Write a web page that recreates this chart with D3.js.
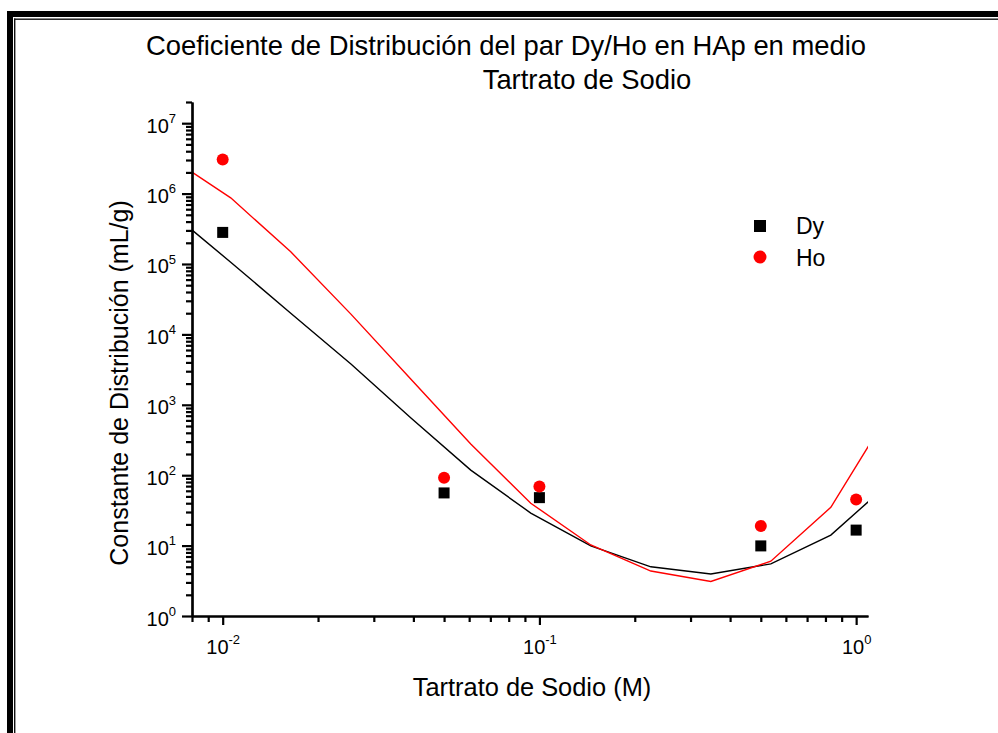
<!DOCTYPE html>
<html>
<head>
<meta charset="utf-8">
<script src="https://cdn.jsdelivr.net/npm/d3@7"></script>
<style>
  body { margin: 0; background: #fff; }
  svg { display: block; font-family: "Liberation Sans", Arial, sans-serif; }
</style>
</head>
<body>
<div id="chart"></div>
<script>
// measured points
const sodium = [0.01, 0.05, 0.1, 0.5, 1.0];
const dyKd = [2.81e5, 56, 48, 9.9, 16.6];
const hoKd = [3.05e6, 92, 69, 19, 45];

// fitted curves (vertices)
const fitX = [0.00686, 0.0106, 0.0164, 0.0254, 0.0393, 0.0607, 0.0939, 0.1453, 0.2248, 0.3477, 0.5378, 0.8319, 1.287];
const dyFit = [5.4e5, 1.06e5, 2.0e4, 3.8e3, 650, 118, 29, 9.9, 5.0, 3.95, 5.5, 14.1, 81];
const hoFit = [3.2e6, 8.7e5, 1.49e5, 1.94e4, 2.3e3, 277, 40, 10.2, 4.35, 3.1, 6.0, 35, 850];

const xMajor = [0.01, 0.1, 1];
const yMajor = [1, 10, 1e2, 1e3, 1e4, 1e5, 1e6, 1e7];
const series = ["Dy", "Ho"];
const colors = ["#000000", "#ff0000"];

const width = 998, height = 733;
const plot = {left: 192, right: 868, top: 102, bottom: 616};

const x = d3.scaleLog().domain([0.008, 1.09]).range([plot.left, plot.right]);
const y = d3.scaleLog().domain([1, 2e7]).range([plot.bottom, plot.top]);

// minor tick positions
const xMinor = [];
[0.001, 0.01, 0.1].forEach(d => { for (let k = 2; k <= 9; k++) xMinor.push(d * k); });
const xMinorIn = xMinor.filter(v => v >= 0.008 && v <= 1.09);
const yMinor = [];
[1, 10, 1e2, 1e3, 1e4, 1e5, 1e6, 1e7].forEach(d => { for (let k = 2; k <= 9; k++) yMinor.push(d * k); });
const yMinorIn = yMinor.filter(v => v <= 2e7 * 1.0001);

const svg = d3.select("#chart").append("svg")
  .attr("width", width)
  .attr("height", height);

// frame
svg.append("rect").attr("x", 7).attr("y", 11).attr("width", 6).attr("height", height).attr("fill", "#000");
svg.append("rect").attr("x", 7).attr("y", 11).attr("width", width).attr("height", 6).attr("fill", "#000");
svg.append("rect").attr("x", 14).attr("y", 18.5).attr("width", 1.4).attr("height", height).attr("fill", "#111");
svg.append("rect").attr("x", 14).attr("y", 18.5).attr("width", width).attr("height", 1.4).attr("fill", "#111");

// title
svg.append("text")
  .attr("x", 506).attr("y", 55)
  .attr("text-anchor", "middle")
  .attr("font-size", 27.4)
  .text("Coeficiente de Distribución del par Dy/Ho en HAp en medio");
svg.append("text")
  .attr("x", 587).attr("y", 89)
  .attr("text-anchor", "middle")
  .attr("font-size", 27.4)
  .text("Tartrato de Sodio");

svg.append("defs").append("clipPath").attr("id", "clip")
  .append("rect")
  .attr("x", plot.left).attr("y", plot.top)
  .attr("width", plot.right - plot.left).attr("height", plot.bottom - plot.top);

// fit lines
const line = vals => d3.line()
  .x((d, i) => x(fitX[i]))
  .y(d => y(d))(vals);

const lines = svg.append("g").attr("clip-path", "url(#clip)");
[dyFit, hoFit].forEach((vals, i) => {
  lines.append("path")
    .attr("d", line(vals))
    .attr("fill", "none")
    .attr("stroke", colors[i])
    .attr("stroke-width", 1.4);
});

// axes
function powLabel(sel, anchor) {
  sel.each(function(d) {
    const t = d3.select(this).text("");
    t.attr("text-anchor", anchor);
    t.append("tspan").text("10");
    t.append("tspan")
      .attr("font-size", 13)
      .attr("dy", "-0.75em")
      .text(Math.round(Math.log10(d)));
  });
}

const xAxis = svg.append("g")
  .attr("transform", `translate(0,${plot.bottom})`)
  .call(d3.axisBottom(x).tickValues(xMajor).tickSize(9).tickSizeOuter(0).tickPadding(15));
xAxis.selectAll(".tick text").attr("font-size", 20).attr("fill", "#000").call(powLabel, "middle");
xAxis.selectAll(".tick text").attr("dy", null).attr("y", 38);

svg.append("g")
  .attr("transform", `translate(0,${plot.bottom})`)
  .call(d3.axisBottom(x).tickValues(xMinorIn).tickSize(6).tickFormat("").tickSizeOuter(0));

const yAxis = svg.append("g")
  .attr("transform", `translate(${plot.left},0)`)
  .call(d3.axisLeft(y).tickValues(yMajor).tickSize(10).tickSizeOuter(0).tickPadding(6));
yAxis.selectAll(".tick text").attr("font-size", 20).attr("fill", "#000").call(powLabel, "end");
yAxis.selectAll(".tick text").attr("dy", "0.45em");

svg.append("g")
  .attr("transform", `translate(${plot.left},0)`)
  .call(d3.axisLeft(y).tickValues(yMinorIn).tickSize(6).tickFormat("").tickSizeOuter(0));

svg.selectAll(".domain").attr("stroke-width", 2.2).attr("stroke", "#000");
svg.selectAll(".tick line").attr("stroke-width", 2.2).attr("stroke", "#000");

// axis titles
svg.append("text")
  .attr("x", 532).attr("y", 696)
  .attr("text-anchor", "middle")
  .attr("font-size", 25.4)
  .text("Tartrato de Sodio (M)");
svg.append("text")
  .attr("transform", "translate(128,383) rotate(-90)")
  .attr("text-anchor", "middle")
  .attr("font-size", 25)
  .text("Constante de Distribución (mL/g)");

// points
const s = 11;
svg.append("g").selectAll("rect")
  .data(sodium)
  .join("rect")
  .attr("x", d => x(d) - s / 2)
  .attr("y", (d, i) => y(dyKd[i]) - s / 2)
  .attr("width", s).attr("height", s)
  .attr("fill", colors[0]);
svg.append("g").selectAll("circle")
  .data(sodium)
  .join("circle")
  .attr("cx", d => x(d))
  .attr("cy", (d, i) => y(hoKd[i]))
  .attr("r", 6)
  .attr("fill", colors[1]);

// legend
const legend = svg.append("g");
legend.append("rect").attr("x", 754).attr("y", 220).attr("width", 12).attr("height", 12).attr("fill", colors[0]);
legend.append("circle").attr("cx", 760).attr("cy", 257).attr("r", 6.5).attr("fill", colors[1]);
series.forEach((name, i) => {
  legend.append("text")
    .attr("x", 796).attr("y", 234 + i * 31.5)
    .attr("font-size", 23)
    .text(name);
});
</script>
</body>
</html>
